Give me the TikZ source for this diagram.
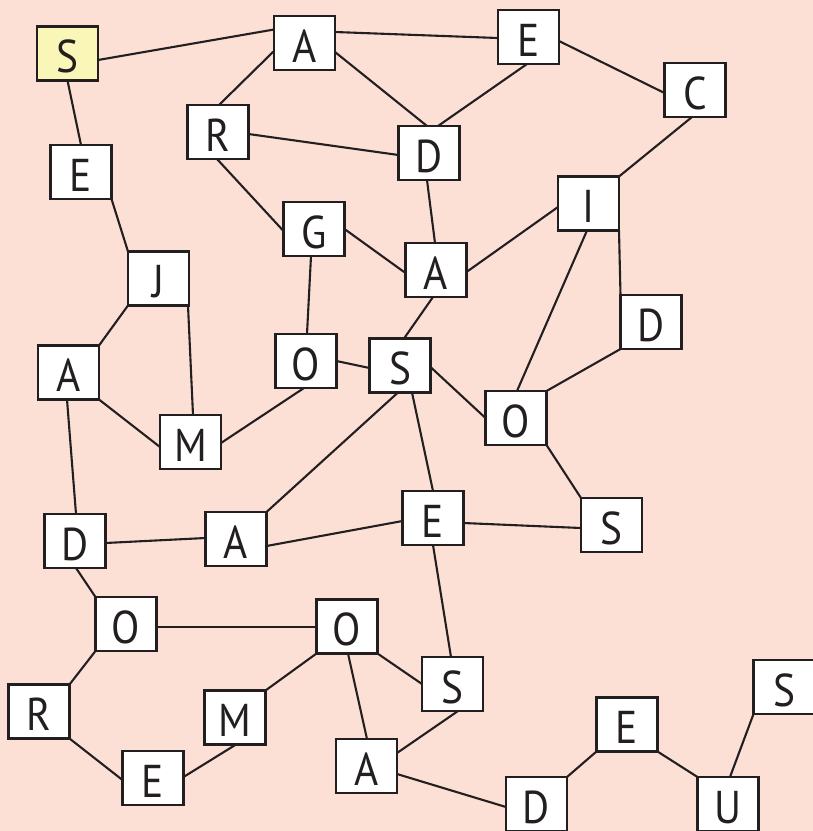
\documentclass[tikz,border=0pt]{standalone}
\usepackage{fontspec}
\setmainfont{PT Sans}[FakeStretch=0.9]
\usetikzlibrary{calc}
\pgfdeclarelayer{bg}
\pgfsetlayers{bg,main}
\definecolor{bgpink}{RGB}{252,224,214}
\definecolor{startyellow}{RGB}{250,246,184}
\definecolor{ink}{RGB}{35,31,32}
\tikzset{
  letter/.style={draw=ink, fill=white, line width=2.4pt, minimum width=61pt, minimum height=54pt,
    inner sep=0pt, text=ink, text height=38pt, text depth=0pt, font=\fontsize{46}{46}\selectfont},
  startbox/.style={letter, fill=startyellow},
  link/.style={draw=ink, line width=2.1pt},
}
\newcommand\lnk[6]{\draw[link] ($(#1.center)+(#2,#3)$) -- ($(#4.center)+(#5,#6)$);}
\begin{document}
\begin{tikzpicture}[x=1pt,y=-1pt]
\useasboundingbox (0,0) rectangle (813,831);
\node[startbox] (s0) at (67.5,53.5) {S};
\node[letter] (a1) at (304.5,43) {A};
\node[letter] (et) at (528.5,37) {E};
\node[letter] (c) at (695,90) {C};
\node[letter] (r) at (218,132) {R};
\node[letter] (dt) at (429,153) {D};
\node[letter] (el) at (81,172) {E};
\node[letter] (i) at (588.5,203.5) {I};
\node[letter] (g) at (314,229) {G};
\node[letter] (j) at (158.5,278.5) {J};
\node[letter] (ac) at (436,270) {A};
\node[letter] (dr) at (651,322) {D};
\node[letter] (al) at (68.5,372.5) {A};
\node[letter] (om) at (306,361) {O};
\node[letter] (sm) at (400,365.5) {S};
\node[letter] (or) at (516,418) {O};
\node[letter] (mu) at (190.5,442) {M};
\node[letter] (em) at (433,518) {E};
\node[letter] (srm) at (611.5,525) {S};
\node[letter] (dl) at (75,541) {D};
\node[letter] (alm) at (236,539) {A};
\node[letter] (oll) at (126,624) {O};
\node[letter] (olm) at (347,626.5) {O};
\node[letter] (sl) at (452.5,684) {S};
\node[letter] (sfr) at (784,687) {S};
\node[letter] (rl) at (39,711.5) {R};
\node[letter] (ml) at (235,717.5) {M};
\node[letter] (ebr) at (627,724.5) {E};
\node[letter] (ab) at (366.5,766) {A};
\node[letter] (eb) at (153,778) {E};
\node[letter] (db) at (536.5,804) {D};
\node[letter] (u) at (728,804) {U};
\begin{pgfonlayer}{bg}
\fill[bgpink] (0,0) rectangle (813,831);
\lnk{s0}{30.5}{6.5}{a1}{-30.5}{-13.5}
\lnk{s0}{0}{27}{el}{0}{-27}
\lnk{a1}{30.5}{-11}{et}{-30.5}{1}
\lnk{a1}{-30.5}{8}{r}{1}{-27}
\lnk{a1}{30.5}{9}{dt}{-2}{-27}
\lnk{et}{-1.5}{27}{dt}{9}{-27}
\lnk{et}{30.5}{4}{c}{-30.5}{3}
\lnk{c}{-3}{27}{i}{30.5}{-27}
\lnk{r}{30.5}{2}{dt}{-30.5}{2}
\lnk{r}{-1}{27}{g}{-30.5}{2}
\lnk{g}{30.5}{0}{ac}{-30.5}{3}
\lnk{g}{-3}{27}{om}{1}{-27}
\lnk{dt}{-2}{27}{ac}{-1}{-27}
\lnk{ac}{30.5}{2}{i}{-30.5}{3.5}
\lnk{ac}{-3}{27}{sm}{4}{-27}
\lnk{i}{-1.5}{27}{or}{1}{-27}
\lnk{i}{30.5}{27}{dr}{-30.5}{-27}
\lnk{dr}{-30.5}{27}{or}{30.5}{-27}
\lnk{sm}{-30.5}{2.5}{om}{30.5}{0}
\lnk{sm}{30.5}{1.5}{or}{-30.5}{0}
\lnk{sm}{12}{27}{em}{0}{-27}
\lnk{sm}{-2}{27}{alm}{30.5}{-27}
\lnk{or}{30.5}{27}{srm}{-30.5}{-27}
\lnk{el}{30.5}{27}{j}{-30.5}{-27}
\lnk{j}{-30.5}{27}{al}{30.5}{-27}
\lnk{j}{29.5}{27}{mu}{2.5}{-27}
\lnk{al}{30.5}{27}{mu}{-30.5}{5}
\lnk{al}{-1.5}{27}{dl}{1}{-27}
\lnk{om}{-2}{27}{mu}{30.5}{1}
\lnk{dl}{30.5}{2}{alm}{-30.5}{-1}
\lnk{dl}{1}{27}{oll}{-30.5}{-27}
\lnk{alm}{30.5}{7}{em}{-30.5}{3}
\lnk{em}{30.5}{5}{srm}{-30.5}{3}
\lnk{em}{0}{27}{sl}{-1.5}{-27}
\lnk{oll}{30.5}{3}{olm}{-30.5}{0.5}
\lnk{oll}{-30.5}{27}{rl}{30.5}{-27}
\lnk{olm}{-30.5}{27}{ml}{30.5}{-27}
\lnk{olm}{1}{27}{ab}{0.5}{-27}
\lnk{olm}{30.5}{27}{sl}{-30.5}{0}
\lnk{rl}{30.5}{27}{eb}{-30.5}{2}
\lnk{eb}{30.5}{-1}{ml}{1}{27}
\lnk{sl}{5.5}{27}{ab}{30.5}{-13}
\lnk{ab}{30.5}{8}{db}{-30.5}{3}
\lnk{db}{30.5}{-27}{ebr}{-30.5}{27}
\lnk{ebr}{30.5}{27}{u}{-30.5}{-27}
\lnk{u}{2}{-27}{sfr}{-30.5}{27}
\end{pgfonlayer}
\end{tikzpicture}
\end{document}
